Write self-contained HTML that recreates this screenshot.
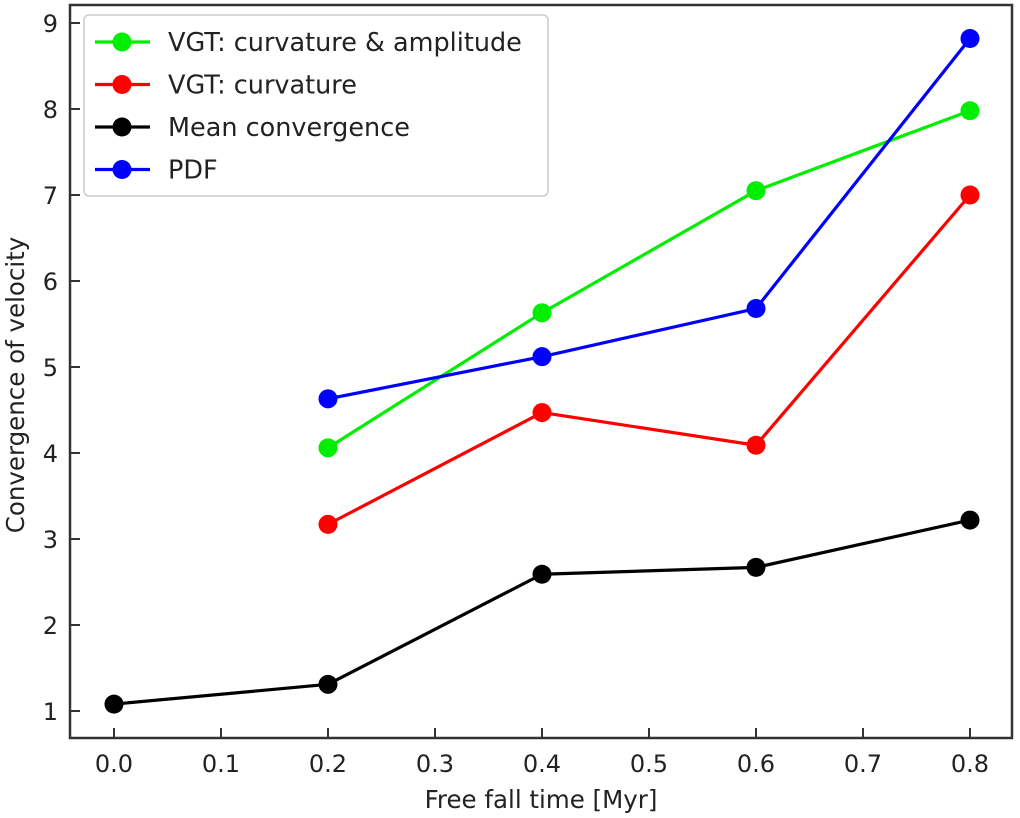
<!DOCTYPE html>
<html><head><meta charset="utf-8"><style>
body{margin:0;background:#fff;}
svg{display:block;font-family:"DejaVu Sans","Liberation Sans",sans-serif;}
</style></head><body>
<svg id="chart" width="1020" height="818">
<rect x="70" y="5" width="942" height="733" fill="none" stroke="#333" stroke-width="2.5"/>
<g id="axes"></g>
<g id="series"></g>
<text x="24" y="385" font-size="24.5" fill="#222" text-anchor="middle" transform="rotate(-90 24 385)">Convergence of velocity</text>
<text x="541" y="808" font-size="24.5" fill="#222" text-anchor="middle">Free fall time [Myr]</text>
<g>
<rect x="84" y="15" width="464" height="181" rx="5" fill="#fff" stroke="#ccc" stroke-width="1.5"/>
<g id="legend"></g>
</g>
</svg>
<script>
const xTicks=[0.0,0.1,0.2,0.3,0.4,0.5,0.6,0.7,0.8];
const yTicks=[1,2,3,4,5,6,7,8,9];
const times=[0.0,0.2,0.4,0.6,0.8];
const meanConv=[1.08,1.31,2.59,2.67,3.22];
const curvTimes=[0.2,0.4,0.6,0.8];
const curvature=[3.17,4.47,4.09,7.0];
const curvAmp=[4.06,5.63,7.05,7.98];
const pdfVals=[4.63,5.12,5.68,8.82];
const labels=["VGT: curvature & amplitude","VGT: curvature","Mean convergence","PDF"];
const colors=["#00ee00","#ff0000","#000000","#0000ff"];
const ns="http://www.w3.org/2000/svg";
const X=v=>114+v*1070;
const Y=v=>711-(v-1)*86;
function mk(t,a,p){const e=document.createElementNS(ns,t);for(const k in a)e.setAttribute(k,a[k]);p.appendChild(e);return e;}
const ax=document.getElementById('axes');
xTicks.forEach(t=>{
  const l=mk('line',{x1:X(t),x2:X(t),y1:738,y2:728,stroke:'#333','stroke-width':2},ax);
  
  
  const tx=mk('text',{x:X(t),y:772,'font-size':24,fill:'#222','text-anchor':'middle'},ax);
  tx.textContent=t.toFixed(1);
  
  
});
yTicks.forEach(t=>{
  const l=mk('line',{x1:70,x2:80,y1:Y(t),y2:Y(t),stroke:'#333','stroke-width':2},ax);
  
  
  const tx=mk('text',{x:58,y:Y(t)+9,'font-size':24,fill:'#222','text-anchor':'end'},ax);
  tx.textContent=t;
  
  
});
const sg=document.getElementById('series');
const data=[[curvTimes,curvAmp],[curvTimes,curvature],[times,meanConv],[curvTimes,pdfVals]];
const names=['curvature-amplitude','curvature','mean-convergence','pdf'];
data.forEach((d,i)=>{
  const g=mk('g',{},sg);
  
  
  const pts=d[0].map((t,j)=>X(t)+','+Y(d[1][j])).join(' ');
  const pl=mk('polyline',{points:pts,fill:'none',stroke:colors[i],'stroke-width':3.2},g);
  
  
  d[0].forEach((t,j)=>{
    const c=mk('circle',{cx:X(t),cy:Y(d[1][j]),r:9.5,fill:colors[i]},g);
    
    
  });
});
const lg=document.getElementById('legend');
labels.forEach((s,i)=>{
  const y=42+i*42.5;
  const g=mk('g',{},lg);
  
  
  mk('line',{x1:95,x2:150,y1:y,y2:y,stroke:colors[i],'stroke-width':3.2},g);
  mk('circle',{cx:122,cy:y,r:9.5,fill:colors[i]},g);
  const tx=mk('text',{x:168,y:y+9,'font-size':25.5,fill:'#222'},g);
  tx.textContent=s;
});
</script>
</body></html>
